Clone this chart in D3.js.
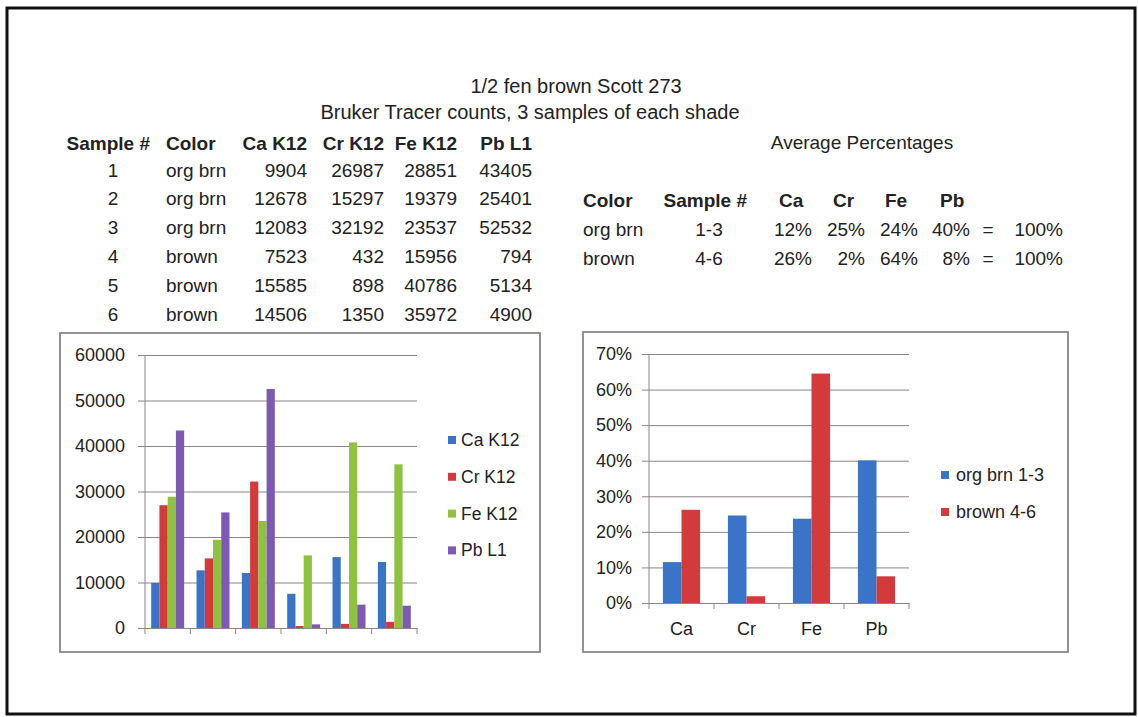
<!DOCTYPE html>
<html>
<head>
<meta charset="utf-8">
<script src="https://cdn.jsdelivr.net/npm/d3@7"></script>
<style>
  html, body { margin: 0; padding: 0; background: #fff; }
  svg text { font-family: "Liberation Sans", Arial, sans-serif; fill: #222; }
</style>
</head>
<body>
<svg id="chart" width="1138" height="717"></svg>
<script>
// raw counts table
let samples = [1, 2, 3, 4, 5, 6];
let shades = ['org brn', 'org brn', 'org brn', 'brown', 'brown', 'brown'];
let caK12 = [9904, 12678, 12083, 7523, 15585, 14506];
let crK12 = [26987, 15297, 32192, 432, 898, 1350];
let feK12 = [28851, 19379, 23537, 15956, 40786, 35972];
let pbL1 = [43405, 25401, 52532, 794, 5134, 4900];
let countSeries = ['Ca K12', 'Cr K12', 'Fe K12', 'Pb L1'];
let countTicks = [0, 10000, 20000, 30000, 40000, 50000, 60000];

// average percentages table
let avgShades = ['org brn', 'brown'];
let avgSamples = ['1-3', '4-6'];
let avgCa = [12, 26];
let avgCr = [25, 2];
let avgFe = [24, 64];
let avgPb = [40, 8];
let avgTotal = [100, 100];

// percentage chart (bar heights)
let elements = ['Ca', 'Cr', 'Fe', 'Pb'];
let pctSeries = ['org brn 1-3', 'brown 4-6'];
let orgBrnPct = [11.5, 24.6, 23.7, 40.1];
let brownPct = [26.2, 1.9, 64.5, 7.5];
let pctTicks = [0, 10, 20, 30, 40, 50, 60, 70];

let colors4 = ['#3a74c8', '#d23a3c', '#8fc23f', '#7c59b2'];
let colors2 = ['#3a74c8', '#d23a3c'];
let gridColor = '#8e8484';

let svg = d3.select('#chart');

// outer frame
svg.append('rect')
    .attr('x', 7).attr('y', 8)
    .attr('width', 1128).attr('height', 706)
    .attr('fill', '#fff')
    .attr('stroke', '#111')
    .attr('stroke-width', 3);

// titles
svg.append('text')
    .attr('x', 576).attr('y', 86)
    .attr('text-anchor', 'middle')
    .attr('dominant-baseline', 'central')
    .style('font-size', '20px')
    .text('1/2 fen brown Scott 273');

svg.append('text')
    .attr('x', 530).attr('y', 112)
    .attr('text-anchor', 'middle')
    .attr('dominant-baseline', 'central')
    .style('font-size', '20px')
    .text('Bruker Tracer counts, 3 samples of each shade');

// ---- left table ----
let rowY = d3.scaleLinear().domain([0, 1]).range([170, 198.8]);
let tbl = svg.append('g').style('font-size', '19px');

let headers = [
    ['Sample #', 150, 'end'],
    ['Color', 166, 'start'],
    ['Ca K12', 307, 'end'],
    ['Cr K12', 384, 'end'],
    ['Fe K12', 457, 'end'],
    ['Pb L1', 532, 'end']
];
tbl.selectAll('text.h')
    .data(headers)
    .enter().append('text')
    .attr('class', 'h')
    .attr('x', d => d[1])
    .attr('y', 143)
    .attr('text-anchor', d => d[2])
    .attr('dominant-baseline', 'central')
    .style('font-weight', 'bold')
    .text(d => d[0]);

let cols = [
    [samples, 113, 'middle'],
    [shades, 166, 'start'],
    [caK12, 307, 'end'],
    [crK12, 384, 'end'],
    [feK12, 457, 'end'],
    [pbL1, 532, 'end']
];
cols.forEach(c => {
    tbl.append('g').selectAll('text')
        .data(c[0])
        .enter().append('text')
        .attr('x', c[1])
        .attr('y', (d, i) => rowY(i))
        .attr('text-anchor', c[2])
        .attr('dominant-baseline', 'central')
        .text(d => d);
});

// ---- right table ----
let tbl2 = svg.append('g').style('font-size', '19px');
tbl2.append('text')
    .attr('x', 862).attr('y', 142)
    .attr('text-anchor', 'middle')
    .attr('dominant-baseline', 'central')
    .text('Average Percentages');

let headers2 = [
    ['Color', 583, 'start'],
    ['Sample #', 747, 'end'],
    ['Ca', 779, 'start'],
    ['Cr', 833, 'start'],
    ['Fe', 885, 'start'],
    ['Pb', 940, 'start']
];
tbl2.selectAll('text.h')
    .data(headers2)
    .enter().append('text')
    .attr('class', 'h')
    .attr('x', d => d[1])
    .attr('y', 200)
    .attr('text-anchor', d => d[2])
    .attr('dominant-baseline', 'central')
    .style('font-weight', 'bold')
    .text(d => d[0]);

let rowY2 = d3.scaleLinear().domain([0, 1]).range([229, 258]);
let pct = d => d + '%';
let cols2 = [
    [avgShades, 583, 'start', d => d],
    [avgSamples, 709, 'middle', d => d],
    [avgCa, 812, 'end', pct],
    [avgCr, 865, 'end', pct],
    [avgFe, 918, 'end', pct],
    [avgPb, 970, 'end', pct],
    [avgPb.map(() => '='), 988, 'middle', d => d],
    [avgTotal, 1063, 'end', pct]
];
cols2.forEach(c => {
    tbl2.append('g').selectAll('text')
        .data(c[0])
        .enter().append('text')
        .attr('x', c[1])
        .attr('y', (d, i) => rowY2(i))
        .attr('text-anchor', c[2])
        .attr('dominant-baseline', 'central')
        .text(c[3]);
});

// ---- left chart: counts ----
svg.append('rect')
    .attr('x', 60).attr('y', 333)
    .attr('width', 480).attr('height', 319)
    .attr('fill', '#fff')
    .attr('stroke', '#888')
    .attr('stroke-width', 1.8);

let x0 = d3.scaleBand().domain(samples).range([145, 417]);
let x1 = d3.scaleBand().domain(countSeries)
    .range([0, x0.bandwidth()])
    .paddingOuter(0.75);
let y = d3.scaleLinear().domain([0, 60000]).range([628, 355]);

let countData = samples.map((s, i) => ({
    sample: s,
    values: [caK12[i], crK12[i], feK12[i], pbL1[i]]
}));

let g1 = svg.append('g');

g1.append('g')
    .attr('transform', 'translate(145, 0)')
    .call(d3.axisLeft(y).tickValues(countTicks).tickSizeInner(-272).tickSizeOuter(0).tickPadding(20).tickFormat(d3.format('d')))
    .call(a => a.select('.domain').remove())
    .call(a => a.selectAll('line').attr('stroke', gridColor).attr('x1', -7))
    .call(a => a.selectAll('text').style('font-size', '18px').style('font-family', '"Liberation Sans", Arial, sans-serif').attr('fill', '#222'));

g1.selectAll('g.grp')
    .data(countData)
    .enter().append('g')
    .attr('class', 'grp')
    .attr('transform', d => `translate(${x0(d.sample)}, 0)`)
    .selectAll('rect')
    .data(d => d.values.map((v, j) => ({ key: countSeries[j], v: v, j: j })))
    .enter().append('rect')
    .attr('x', d => x1(d.key))
    .attr('width', x1.bandwidth())
    .attr('y', d => y(d.v))
    .attr('height', d => y(0) - y(d.v))
    .attr('fill', d => colors4[d.j]);

g1.append('line')
    .attr('x1', 145).attr('x2', 145)
    .attr('y1', 355).attr('y2', 628)
    .attr('stroke', gridColor);

g1.append('g')
    .attr('transform', 'translate(0, 628)')
    .call(d3.axisBottom(x0).tickValues([]).tickSizeOuter(0))
    .call(a => a.select('.domain').attr('stroke', gridColor));

g1.selectAll('line.tk')
    .data(d3.range(samples.length + 1))
    .enter().append('line')
    .attr('class', 'tk')
    .attr('x1', i => 145 + i * x0.step())
    .attr('x2', i => 145 + i * x0.step())
    .attr('y1', 628).attr('y2', 634)
    .attr('stroke', gridColor);

let leg1 = g1.append('g')
    .selectAll('g')
    .data(countSeries)
    .enter().append('g')
    .attr('transform', (d, i) => `translate(448, ${440 + i * 36.8})`);
leg1.append('rect')
    .attr('x', 0).attr('y', -4)
    .attr('width', 8).attr('height', 8)
    .attr('fill', (d, i) => colors4[i]);
leg1.append('text')
    .attr('x', 13).attr('y', 0)
    .attr('dominant-baseline', 'central')
    .style('font-size', '17.5px')
    .text(d => d);

// ---- right chart: average percentages ----
svg.append('rect')
    .attr('x', 583).attr('y', 332)
    .attr('width', 485).attr('height', 320)
    .attr('fill', '#fff')
    .attr('stroke', '#888')
    .attr('stroke-width', 1.8);

let px0 = d3.scaleBand().domain(elements).range([649, 909]);
let px1 = d3.scaleBand().domain(pctSeries)
    .range([0, px0.bandwidth()])
    .paddingOuter(0.75);
let py = d3.scaleLinear().domain([0, 70]).range([603, 354]);

let pctData = elements.map((e, i) => ({
    el: e,
    values: [orgBrnPct[i], brownPct[i]]
}));

let g2 = svg.append('g');

g2.append('g')
    .attr('transform', 'translate(649, 0)')
    .call(d3.axisLeft(py).tickValues(pctTicks).tickSizeInner(-260).tickSizeOuter(0).tickPadding(17).tickFormat(d => d + '%'))
    .call(a => a.select('.domain').remove())
    .call(a => a.selectAll('line').attr('stroke', gridColor).attr('x1', -7))
    .call(a => a.selectAll('text').style('font-size', '18px').style('font-family', '"Liberation Sans", Arial, sans-serif').attr('fill', '#222'));

g2.selectAll('g.grp')
    .data(pctData)
    .enter().append('g')
    .attr('class', 'grp')
    .attr('transform', d => `translate(${px0(d.el)}, 0)`)
    .selectAll('rect')
    .data(d => d.values.map((v, j) => ({ key: pctSeries[j], v: v, j: j })))
    .enter().append('rect')
    .attr('x', d => px1(d.key))
    .attr('width', px1.bandwidth())
    .attr('y', d => py(d.v))
    .attr('height', d => py(0) - py(d.v))
    .attr('fill', d => colors2[d.j]);

g2.append('line')
    .attr('x1', 649).attr('x2', 649)
    .attr('y1', 354).attr('y2', 603)
    .attr('stroke', gridColor);

g2.append('g')
    .attr('transform', 'translate(0, 603)')
    .call(d3.axisBottom(px0).tickSize(0).tickPadding(19).tickSizeOuter(0))
    .call(a => a.select('.domain').attr('stroke', gridColor))
    .call(a => a.selectAll('text').style('font-size', '18px').style('font-family', '"Liberation Sans", Arial, sans-serif').attr('fill', '#222'));

g2.selectAll('line.tk')
    .data(d3.range(elements.length + 1))
    .enter().append('line')
    .attr('class', 'tk')
    .attr('x1', i => 649 + i * px0.step())
    .attr('x2', i => 649 + i * px0.step())
    .attr('y1', 603).attr('y2', 609)
    .attr('stroke', gridColor);

let leg2 = g2.append('g')
    .selectAll('g')
    .data(pctSeries)
    .enter().append('g')
    .attr('transform', (d, i) => `translate(941, ${475 + i * 37})`);
leg2.append('rect')
    .attr('x', 0).attr('y', -4)
    .attr('width', 8).attr('height', 8)
    .attr('fill', (d, i) => colors2[i]);
leg2.append('text')
    .attr('x', 15).attr('y', 0)
    .attr('dominant-baseline', 'central')
    .style('font-size', '18px')
    .text(d => d);
</script>
</body>
</html>
